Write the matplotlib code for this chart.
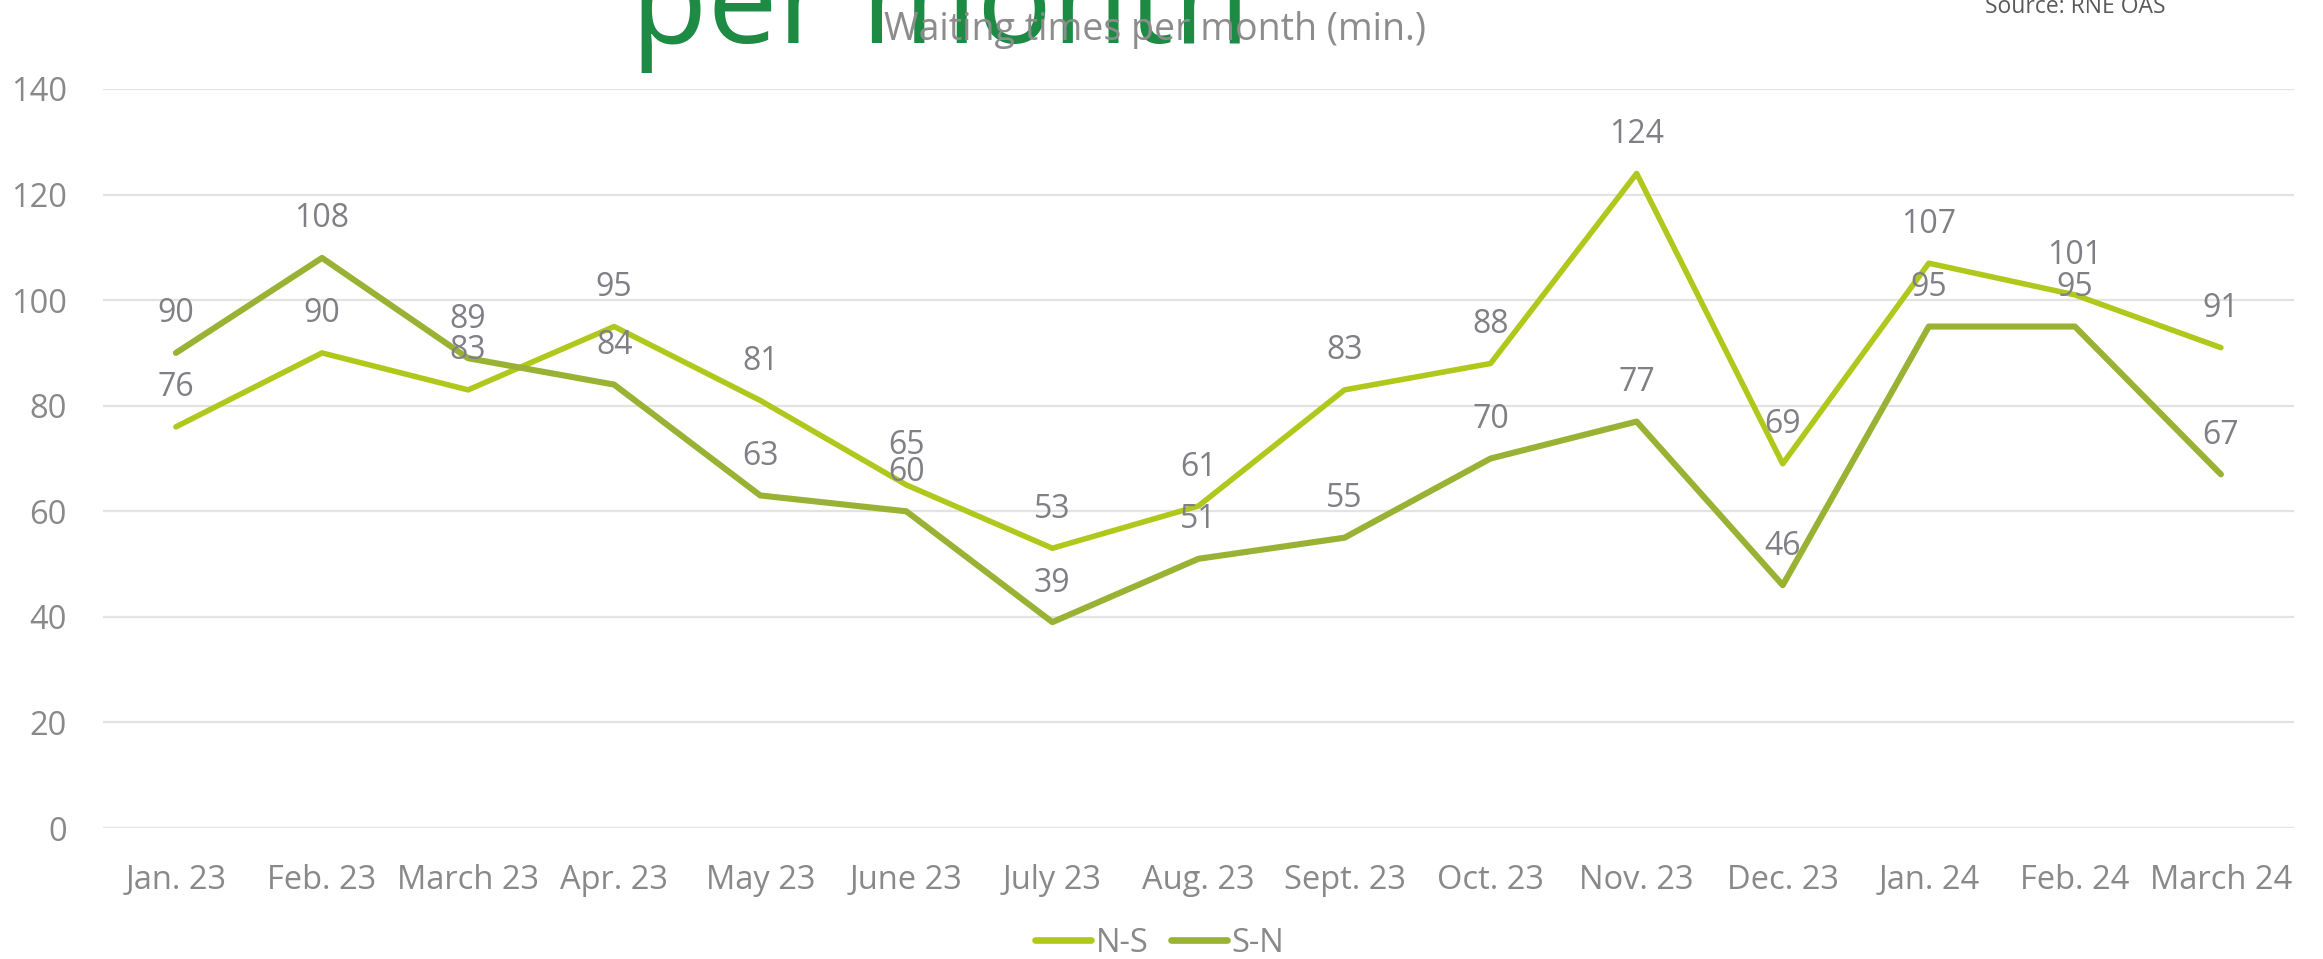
import matplotlib
matplotlib.use("Agg")
import matplotlib.pyplot as plt

plt.rcParams['font.family'] = ['Open Sans', 'DejaVu Sans']

months = ['Jan. 23', 'Feb. 23', 'March 23', 'Apr. 23', 'May 23', 'June 23', 'July 23',
          'Aug. 23', 'Sept. 23', 'Oct. 23', 'Nov. 23', 'Dec. 23', 'Jan. 24', 'Feb. 24',
          'March 24']
ns_values = [76, 90, 83, 95, 81, 65, 53, 61, 83, 88, 124, 69, 107, 101, 91]
sn_values = [90, 108, 89, 84, 63, 60, 39, 51, 55, 70, 77, 46, 95, 95, 67]
y_ticks = [0, 20, 40, 60, 80, 100, 120, 140]

ns_color = '#b0c81c'
sn_color = '#99b234'
text_grey = '#898989'
label_grey = '#7f7f85'

fig = plt.figure(figsize=(23.23, 9.59), dpi=100)
ax = fig.add_axes([0.0443, 0.1366, 0.9432, 0.7706])

x = list(range(len(months)))
ax.plot(x, ns_values, color=ns_color, lw=4.0, label='N-S',
        solid_capstyle='round', solid_joinstyle='round', zorder=3)
ax.plot(x, sn_values, color=sn_color, lw=4.4, label='S-N',
        solid_capstyle='round', solid_joinstyle='round', zorder=3)

# data labels above the points
for series in (ns_values, sn_values):
    for xi, v in zip(x, series):
        ax.annotate(str(v), (xi, v), xytext=(0, 39), textcoords='offset pixels',
                    ha='center', va='center', fontsize=23, color=label_grey, zorder=5)

ax.set_xlim(-0.5, len(months) - 0.5)
ax.set_ylim(0, 140)
ax.set_yticks(y_ticks)
ax.set_xticks(x)
ax.set_xticklabels(months)
ax.tick_params(axis='both', length=0, labelsize=23.5, labelcolor=text_grey)
ax.tick_params(axis='y', pad=26)
ax.tick_params(axis='x', pad=26)
ax.grid(axis='y', color='#e3e3e3', lw=1.6)
ax.set_axisbelow(True)
for s in ax.spines.values():
    s.set_visible(False)

leg = fig.legend(loc='center', bbox_to_anchor=(1160 / 2323, 1 - 943 / 959), ncol=2,
                 frameon=False, fontsize=23.5, handlelength=1.7, handletextpad=0.15,
                 columnspacing=0.7)
for t in leg.get_texts():
    t.set_color(text_grey)
for h in leg.get_lines():
    h.set_solid_capstyle('round')
    h.set_linewidth(4.8)

# titles (cut off at the top like the source slide)
fig.text(631 / 2323, 1 - 43 / 959, 'per month', fontsize=90, color='#1e8b45',
         ha='left', va='baseline')
fig.text(1155 / 2323, 1 - 40 / 959, 'Waiting times per month (min.)', fontsize=27,
         color='#8c8c8c', ha='center', va='baseline')
fig.text(1985 / 2323, 1 - 13 / 959, 'Source: RNE OAS', fontsize=16.5,
         color='#5a5a5a', ha='left', va='baseline')

fig.savefig('out.png', dpi=100)
